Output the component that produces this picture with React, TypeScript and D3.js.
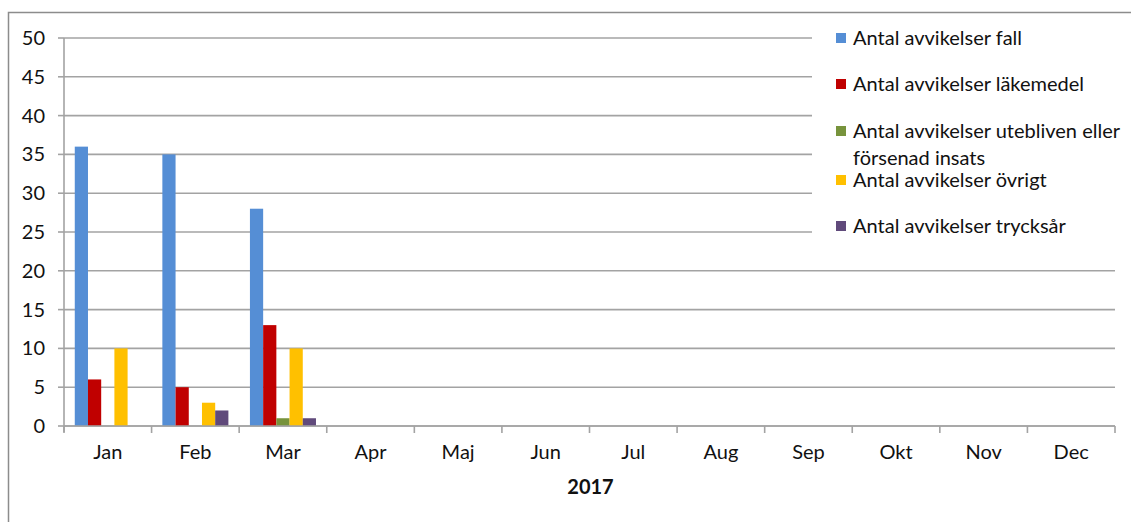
import React from "react";
import * as d3 from "d3";

const months = ["Jan", "Feb", "Mar", "Apr", "Maj", "Jun", "Jul", "Aug", "Sep", "Okt", "Nov", "Dec"];

const seriesNames = [
  "Antal avvikelser fall",
  "Antal avvikelser läkemedel",
  "Antal avvikelser utebliven eller försenad insats",
  "Antal avvikelser övrigt",
  "Antal avvikelser trycksår",
];

const fall: (number | null)[] = [36, 35, 28, null, null, null, null, null, null, null, null, null];
const lakemedel: (number | null)[] = [6, 5, 13, null, null, null, null, null, null, null, null, null];
const utebliven: (number | null)[] = [0, 0, 1, null, null, null, null, null, null, null, null, null];
const ovrigt: (number | null)[] = [10, 3, 10, null, null, null, null, null, null, null, null, null];
const trycksar: (number | null)[] = [0, 2, 1, null, null, null, null, null, null, null, null, null];

const yTicks = [0, 5, 10, 15, 20, 25, 30, 35, 40, 45, 50];
const xTitle = "2017";

const seriesValues = [fall, lakemedel, utebliven, ovrigt, trycksar];
const colors = ["#558ed5", "#c00000", "#77933c", "#ffc000", "#604a7b"];

// legend label lines (third entry wraps onto two lines)
const legendLines: string[][] = [
  ["Antal avvikelser fall"],
  ["Antal avvikelser läkemedel"],
  ["Antal avvikelser utebliven eller", "försenad insats"],
  ["Antal avvikelser övrigt"],
  ["Antal avvikelser trycksår"],
];

const W = 1131;
const H = 522;
const FONT = "Lato, 'Open Sans', sans-serif";
const GRID = "#a3a3a3";
const FS = 20;

export default function App() {
  const plot = { left: 64, right: 1115, top: 38, bottom: 426 };

  const y = d3.scaleLinear().domain([0, 50]).range([plot.bottom, plot.top]);
  const x = d3.scaleBand<string>().domain(months).range([plot.left, plot.right]).padding(0);
  const bw = x.bandwidth();
  const inset = bw * 0.123;
  const inner = d3
    .scaleBand<number>()
    .domain(d3.range(seriesNames.length))
    .range([inset, bw - inset])
    .padding(0);

  const legendRows = [38, 84, 131, 180, 226];
  const lineGap = 27;

  return (
    <svg
      width={W}
      height={H}
      style={{ position: "absolute", left: 0, top: 0, background: "#fff" }}
      fontFamily={FONT}
    >
      {/* outer frame (left and top edges) */}
      <path d={`M8.5,${H} V12.5 H${W}`} fill="none" stroke="#8c8c8c" strokeWidth={1.5} />

      {/* horizontal gridlines */}
      {yTicks.map((t) => (
        <line key={`g${t}`} x1={plot.left} x2={plot.right} y1={y(t)} y2={y(t)} stroke={GRID} strokeWidth={1.6} />
      ))}

      {/* y axis line and ticks */}
      <line x1={plot.left} x2={plot.left} y1={plot.top} y2={plot.bottom + 6} stroke={GRID} strokeWidth={1.6} />
      {yTicks.map((t) => (
        <g key={`yt${t}`}>
          <line x1={plot.left - 6} x2={plot.left} y1={y(t)} y2={y(t)} stroke={GRID} strokeWidth={1.6} />
          <text x={45} y={y(t)} dy="0.35em" textAnchor="end" fontSize={FS} fill="#111">
            {t}
          </text>
        </g>
      ))}

      {/* bars */}
      {seriesValues.map((vals, si) =>
        vals.map((v, mi) =>
          v == null || v === 0 ? null : (
            <rect
              key={`b${si}-${mi}`}
              x={(x(months[mi]) as number) + (inner(si) as number)}
              y={y(v)}
              width={inner.bandwidth()}
              height={y(0) - y(v)}
              fill={colors[si]}
            />
          )
        )
      )}

      {/* x axis line, ticks and labels */}
      <line x1={plot.left} x2={plot.right} y1={plot.bottom} y2={plot.bottom} stroke={GRID} strokeWidth={1.6} />
      {months.map((m) => (
        <line
          key={`xt${m}`}
          x1={x(m) as number}
          x2={x(m) as number}
          y1={plot.bottom}
          y2={plot.bottom + 7}
          stroke={GRID}
          strokeWidth={1.6}
        />
      ))}
      <line x1={plot.right} x2={plot.right} y1={plot.bottom} y2={plot.bottom + 7} stroke={GRID} strokeWidth={1.6} />
      {months.map((m) => (
        <text
          key={`xl${m}`}
          x={(x(m) as number) + bw / 2}
          y={459}
          textAnchor="middle"
          fontSize={FS}
          fill="#111"
        >
          {m}
        </text>
      ))}
      <text x={(plot.left + plot.right) / 2 + 1} y={494} textAnchor="middle" fontSize={FS} fontWeight="bold" fill="#111">
        {xTitle}
      </text>

      {/* legend */}
      <rect x={812} y={18} width={W - 812} height={232} fill="#fff" />
      {legendLines.map((lines, i) => (
        <g key={`lg${i}`}>
          <rect x={836} y={legendRows[i] - 5} width={10} height={10} fill={colors[i]} />
          {lines.map((ln, j) => (
            <text
              key={j}
              x={853}
              y={legendRows[i] + j * lineGap}
              dy="0.35em"
              fontSize={FS}
              fill="#111"
            >
              {ln}
            </text>
          ))}
        </g>
      ))}
    </svg>
  );
}
